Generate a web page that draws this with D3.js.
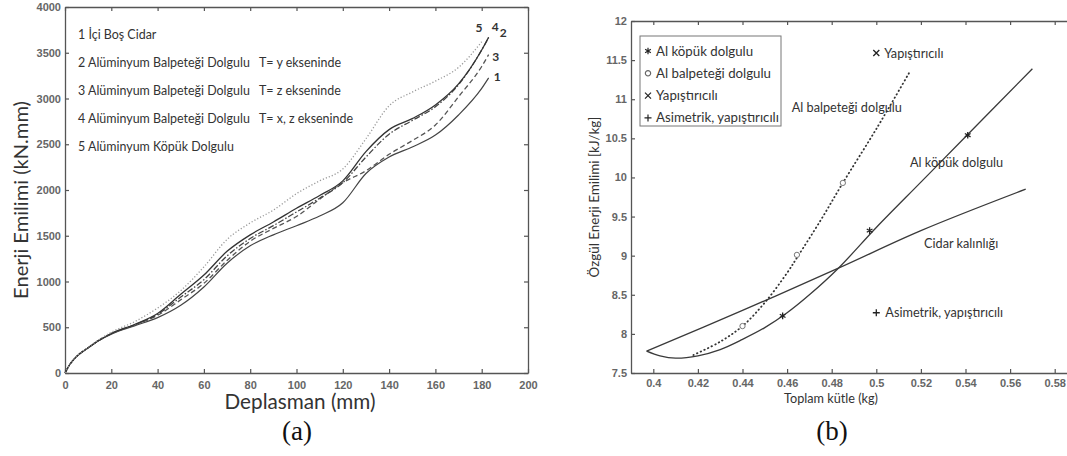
<!DOCTYPE html>
<html lang="tr">
<head>
  <meta charset="UTF-8">
  <title>Enerji Emilimi</title>
  <script src="https://d3js.org/d3.v7.min.js"></script>
  <style>
    body { margin: 0; background: #fff; }
    svg { display: block; }
    .tick text { font-family: "Liberation Sans", Arial, sans-serif; font-size: 11px; font-weight: bold; fill: #666; }
    .lbl { font-family: Lato, sans-serif; fill: #333; }
  </style>
</head>
<body>
<svg width="1067" height="456"></svg>
<script>
  // ---- panel (a) data ----
  const deplasman = [0, 2, 5, 10, 15, 20, 30, 40, 50, 60, 70, 80, 90, 100, 110, 120, 130, 140, 150, 160, 170, 180, 183];
  const curve1 = [0, 90, 180, 275, 360, 425, 515, 605, 740, 940, 1200, 1390, 1510, 1610, 1715, 1860, 2180, 2360, 2470, 2600, 2820, 3110, 3225];
  const curve2 = [0, 90, 180, 275, 362, 432, 530, 650, 860, 1070, 1330, 1510, 1650, 1800, 1940, 2100, 2420, 2660, 2780, 2930, 3160, 3530, 3670];
  const curve3 = [0, 90, 180, 275, 360, 430, 525, 630, 800, 980, 1230, 1440, 1580, 1710, 1900, 2080, 2210, 2390, 2540, 2710, 3020, 3350, 3480];
  const curve4 = [0, 90, 180, 275, 362, 430, 525, 640, 830, 1020, 1280, 1470, 1610, 1760, 1910, 2080, 2360, 2610, 2760, 2910, 3150, 3530, 3665];
  const curve5 = [0, 90, 180, 280, 370, 445, 560, 710, 900, 1160, 1460, 1640, 1780, 1960, 2100, 2230, 2560, 2920, 3070, 3190, 3340, 3620, null];
  const legendA = [
    ["1 İçi Boş Cidar", ""],
    ["2 Alüminyum Balpeteği Dolgulu", "T= y ekseninde"],
    ["3 Alüminyum Balpeteği Dolgulu", "T= z ekseninde"],
    ["4 Alüminyum Balpeteği Dolgulu", "T= x, z ekseninde"],
    ["5 Alüminyum Köpük Dolgulu", ""]
  ];
  const xTicksA = d3.range(0, 201, 20);
  const yTicksA = d3.range(0, 4001, 500);

  // ---- panel (b) data ----
  const cidarKutle = [0.397, 0.44, 0.483, 0.52, 0.567];
  const cidarEnerji = [7.78, 8.30, 8.84, 9.32, 9.85];
  const kopukKutle = [0.397, 0.403, 0.41, 0.42, 0.43, 0.44, 0.45, 0.46, 0.47, 0.483, 0.50, 0.52, 0.54, 0.57];
  const kopukEnerji = [7.78, 7.72, 7.69, 7.72, 7.80, 7.93, 8.08, 8.27, 8.50, 8.84, 9.36, 9.94, 10.52, 11.39];
  const balKutle = [0.418, 0.43, 0.44, 0.45, 0.46, 0.465, 0.475, 0.485, 0.50, 0.515];
  const balEnerji = [7.73, 7.90, 8.10, 8.40, 8.78, 9.0, 9.45, 9.93, 10.62, 11.35];
  const kopukNokta = [[0.458, 8.23], [0.497, 9.32], [0.541, 10.54]];
  const balNokta = [[0.44, 8.10], [0.4644, 9.01], [0.485, 9.93]];
  const yapistiriciNokta = [0.5, 11.59];
  const asimetrikNokta = [0.5, 8.27];
  const legendB = ["Al köpük dolgulu", "Al balpeteği dolgulu", "Yapıştırıcılı", "Asimetrik, yapıştırıcılı"];
  const xTicksB = [0.4, 0.42, 0.44, 0.46, 0.48, 0.5, 0.52, 0.54, 0.56, 0.58];
  const yTicksB = [7.5, 8, 8.5, 9, 9.5, 10, 10.5, 11, 11.5, 12];

  const svg = d3.select("svg");
  const ink = "#3a3a3a";

  // font size that gives a string the width seen in the picture
  const probe = svg.append("text").attr("class", "lbl").attr("font-size", 100).attr("opacity", 0);
  function fit(str, width) {
    probe.text(str);
    return 100 * width / probe.node().getComputedTextLength();
  }
  const fsLegA = fit("2 Alüminyum Balpeteği Dolgulu", 172);
  const fsNoteB = fit("Asimetrik, yapıştırıcılı", 118);
  const fsYA = fit("Enerji Emilimi (kN.mm)", 198);
  const fsXA = fit("Deplasman (mm)", 151);
  const fsYB = fit("Özgül Enerji Emilimi [kJ/kg]", 161);
  const fsXB = fit("Toplam kütle (kg)", 94);
  probe.remove();

  // =============== panel (a) ===============
  const xA = d3.scaleLinear().domain([0, 200]).range([65, 528]);
  const yA = d3.scaleLinear().domain([0, 4000]).range([373, 7]);
  const gA = svg.append("g");

  function styleAxis(g) {
    g.select(".domain").attr("stroke", "#555").attr("stroke-width", 1.3);
    g.selectAll(".tick line").attr("stroke", "#555").attr("stroke-width", 1.2);
  }
  const plain = d => String(d);

  gA.append("g").attr("transform", `translate(0,${yA(0)})`)
    .call(d3.axisBottom(xA).tickValues(xTicksA).tickSizeInner(-4).tickSizeOuter(0).tickPadding(8).tickFormat(plain))
    .call(styleAxis);
  gA.append("g").attr("transform", `translate(0,${yA(4000)})`)
    .call(d3.axisTop(xA).tickValues(xTicksA).tickSizeInner(-4).tickSizeOuter(0).tickFormat(""))
    .call(styleAxis);
  gA.append("g").attr("transform", `translate(${xA(0)},0)`)
    .call(d3.axisLeft(yA).tickValues(yTicksA).tickSizeInner(-4).tickSizeOuter(0).tickPadding(4).tickFormat(plain))
    .call(styleAxis);
  gA.append("g").attr("transform", `translate(${xA(200)},0)`)
    .call(d3.axisRight(yA).tickValues(yTicksA).tickSizeInner(-4).tickSizeOuter(0).tickFormat(""))
    .call(styleAxis);

  const lineA = d3.line()
    .defined(d => d[1] != null)
    .x(d => xA(d[0])).y(d => yA(d[1]))
    .curve(d3.curveMonotoneX);

  const seriesA = [
    { id: "1", v: curve1, color: "#444", dash: null, w: 1.2 },
    { id: "3", v: curve3, color: "#555", dash: "5,3", w: 1.3 },
    { id: "4", v: curve4, color: "#444", dash: "6,2,1.5,2", w: 1.3 },
    { id: "2", v: curve2, color: "#333", dash: null, w: 1.3 },
    { id: "5", v: curve5, color: "#999", dash: "1.2,2", w: 1.3 }
  ];
  seriesA.forEach(s => {
    gA.append("path")
      .datum(deplasman.map((x, i) => [x, s.v[i]]))
      .attr("d", lineA)
      .attr("fill", "none")
      .attr("stroke", s.color)
      .attr("stroke-width", s.w)
      .attr("stroke-dasharray", s.dash);
  });

  // curve end numbers
  const endLabels = [
    { t: "5", x: 179, y: 3640, dx: -4, dy: -8 },
    { t: "4", x: 183, y: 3670, dx: 3, dy: -6 },
    { t: "2", x: 183, y: 3670, dx: 11, dy: 0 },
    { t: "3", x: 182, y: 3480, dx: 6, dy: 6 },
    { t: "1", x: 183, y: 3225, dx: 5, dy: 3 }
  ];
  gA.selectAll(".endlbl").data(endLabels).enter().append("text")
    .attr("class", "lbl")
    .attr("x", d => xA(d.x) + d.dx).attr("y", d => yA(d.y) + d.dy)
    .attr("font-size", 12).attr("font-weight", "bold").attr("fill", "#555")
    .text(d => d.t);

  legendA.forEach((d, i) => {
    const y = 39 + i * 28;
    gA.append("text").attr("class", "lbl").attr("x", 78).attr("y", y)
      .attr("font-size", fsLegA).text(d[0]);
    if (d[1]) gA.append("text").attr("class", "lbl").attr("x", 259).attr("y", y)
      .attr("font-size", fsLegA).text(d[1]);
  });

  gA.append("text").attr("class", "lbl")
    .attr("transform", `translate(28,${(yA(0) + yA(4000)) / 2 + 10}) rotate(-90)`)
    .attr("text-anchor", "middle").attr("font-size", fsYA)
    .text("Enerji Emilimi (kN.mm)");
  gA.append("text").attr("class", "lbl")
    .attr("x", 300).attr("y", 409)
    .attr("text-anchor", "middle").attr("font-size", fsXA)
    .text("Deplasman (mm)");
  gA.append("text")
    .attr("x", 297).attr("y", 440).attr("text-anchor", "middle")
    .attr("font-family", "Liberation Serif, serif").attr("font-size", 27).attr("fill", "#111")
    .text("(a)");

  // =============== panel (b) ===============
  const xB = d3.scaleLinear().domain([0.39, 0.59]).range([631, 1077]);
  const yB = d3.scaleLinear().domain([7.5, 12]).range([373, 21]);
  const gB = svg.append("g");

  gB.append("g").attr("transform", `translate(0,${yB(7.5)})`)
    .call(d3.axisBottom(xB).tickValues(xTicksB).tickSizeInner(-4).tickSizeOuter(0).tickPadding(6).tickFormat(plain))
    .call(styleAxis);
  gB.append("g").attr("transform", `translate(0,${yB(12)})`)
    .call(d3.axisTop(xB).tickValues(xTicksB).tickSizeInner(-4).tickSizeOuter(0).tickFormat(""))
    .call(styleAxis);
  gB.append("g").attr("transform", `translate(${xB(0.39)},0)`)
    .call(d3.axisLeft(yB).tickValues(yTicksB).tickSizeInner(-4).tickSizeOuter(0).tickPadding(4).tickFormat(plain))
    .call(styleAxis);

  const lineB = d3.line().x(d => xB(d[0])).y(d => yB(d[1])).curve(d3.curveCatmullRom);
  const zip = (a, b) => a.map((v, i) => [v, b[i]]);

  gB.append("path").datum(zip(cidarKutle, cidarEnerji)).attr("d", lineB)
    .attr("fill", "none").attr("stroke", ink).attr("stroke-width", 1.3);
  gB.append("path").datum(zip(kopukKutle, kopukEnerji)).attr("d", lineB)
    .attr("fill", "none").attr("stroke", ink).attr("stroke-width", 1.3);
  gB.append("path").datum(zip(balKutle, balEnerji)).attr("d", lineB)
    .attr("fill", "none").attr("stroke", "#333").attr("stroke-width", 1.8)
    .attr("stroke-dasharray", "0.5,3.5").attr("stroke-linecap", "round");

  const asterisk = d3.symbol().type(d3.symbolAsterisk).size(30)();
  const cross = "M-3,-3L3,3M-3,3L3,-3";
  const plus = "M-3.5,0H3.5M0,-3.5V3.5";
  const circle = d3.symbol().type(d3.symbolCircle).size(22)();

  gB.selectAll(".kp").data(kopukNokta).enter().append("path")
    .attr("transform", d => `translate(${xB(d[0])},${yB(d[1])})`)
    .attr("d", asterisk).attr("fill", "none").attr("stroke", "#222").attr("stroke-width", 1.3);
  gB.selectAll(".bp").data(balNokta).enter().append("path")
    .attr("transform", d => `translate(${xB(d[0])},${yB(d[1])})`)
    .attr("d", circle).attr("fill", "#fff").attr("stroke", "#777").attr("stroke-width", 1);
  gB.append("path").attr("transform", `translate(${xB(yapistiriciNokta[0])},${yB(yapistiriciNokta[1])})`)
    .attr("d", cross).attr("fill", "none").attr("stroke", "#222").attr("stroke-width", 1.3);
  gB.append("path").attr("transform", `translate(${xB(asimetrikNokta[0])},${yB(asimetrikNokta[1])})`)
    .attr("d", plus).attr("fill", "none").attr("stroke", "#222").attr("stroke-width", 1.3);

  // legend box
  const lg = gB.append("g");
  lg.append("rect").attr("x", 640).attr("y", 36).attr("width", 141).attr("height", 90)
    .attr("fill", "#fff").attr("stroke", "#777").attr("stroke-width", 1);
  const legSyms = [
    { d: asterisk, fill: "none", stroke: "#222" },
    { d: circle, fill: "#fff", stroke: "#666" },
    { d: cross, fill: "none", stroke: "#222" },
    { d: plus, fill: "none", stroke: "#222" }
  ];
  legendB.forEach((t, i) => {
    const y = 51 + i * 22.3;
    lg.append("path").attr("transform", `translate(648,${y})`).attr("d", legSyms[i].d)
      .attr("fill", legSyms[i].fill).attr("stroke", legSyms[i].stroke).attr("stroke-width", 1.2);
    lg.append("text").attr("class", "lbl").attr("x", 656).attr("y", y + 4.5)
      .attr("font-size", fsNoteB * 123 / 118).text(t);
  });

  // annotations
  const notes = [
    { t: "Yapıştırıcılı", x: 0.5, y: 11.59, dx: 8, anchor: "start" },
    { t: "Al balpeteği dolgulu", x: 0.5115, y: 10.90, dx: 0, anchor: "end" },
    { t: "Al köpük dolgulu", x: 0.5151, y: 10.185, dx: 0, anchor: "start" },
    { t: "Cidar kalınlığı", x: 0.5214, y: 9.16, dx: 0, anchor: "start" },
    { t: "Asimetrik, yapıştırıcılı", x: 0.5, y: 8.27, dx: 9, anchor: "start" }
  ];
  gB.selectAll(".note").data(notes).enter().append("text")
    .attr("class", "lbl")
    .attr("x", d => xB(d.x) + d.dx).attr("y", d => yB(d.y) + 4.5)
    .attr("text-anchor", d => d.anchor).attr("font-size", fsNoteB)
    .text(d => d.t);

  gB.append("text").attr("class", "lbl")
    .attr("transform", `translate(599,197) rotate(-90)`)
    .attr("text-anchor", "middle").attr("font-size", fsYB)
    .text("Özgül Enerji Emilimi [kJ/kg]");
  gB.append("text").attr("class", "lbl")
    .attr("x", 831).attr("y", 403).attr("text-anchor", "middle").attr("font-size", fsXB)
    .text("Toplam kütle (kg)");
  gB.append("text")
    .attr("x", 832).attr("y", 440).attr("text-anchor", "middle")
    .attr("font-family", "Liberation Serif, serif").attr("font-size", 27).attr("fill", "#111")
    .text("(b)");
</script>
</body>
</html>
